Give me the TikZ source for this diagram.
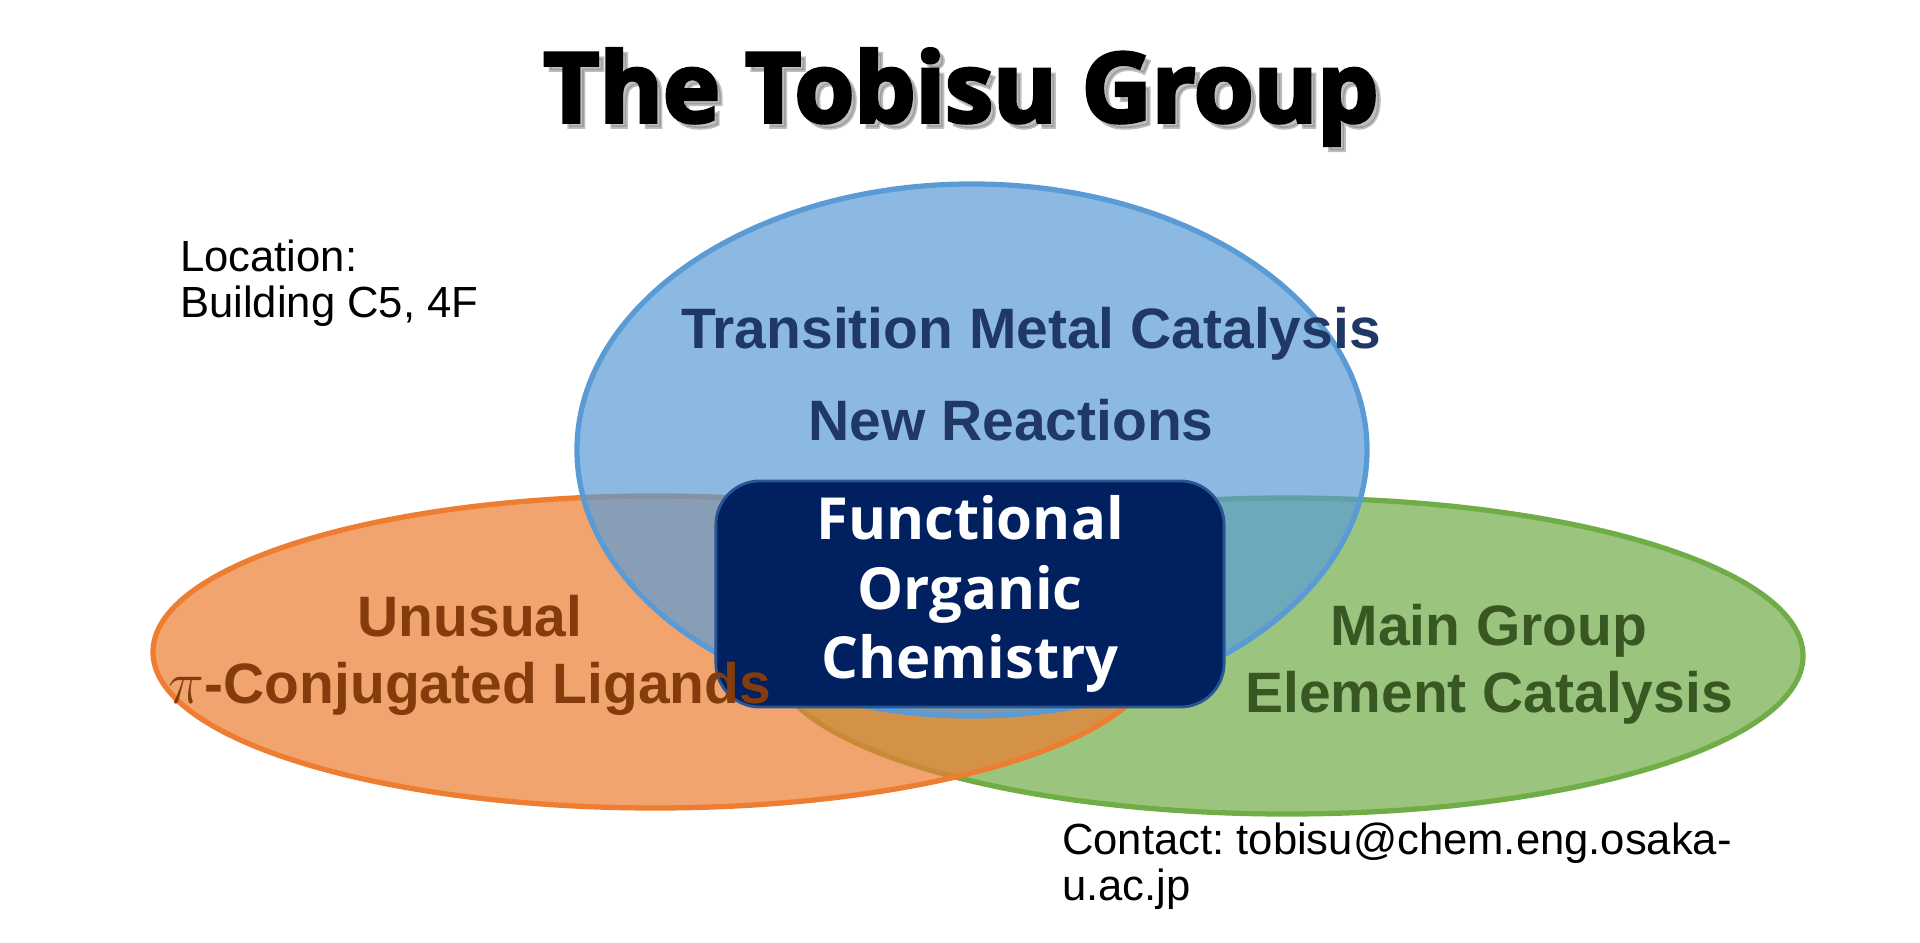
\documentclass[tikz,border=0pt]{standalone}
\usepackage{fontspec}
\setmainfont{Liberation Sans}
\newfontfamily\titlefont{Open Sans}[BoldFeatures={FakeBold=3.5}]
\newfontfamily\boxfont{Open Sans}
\frenchspacing

\definecolor{tmblue}{HTML}{5B9BD5}
\definecolor{mggreen}{HTML}{70AD47}
\definecolor{uporange}{HTML}{ED7D31}
\definecolor{focnavy}{HTML}{002060}
\definecolor{tmtext}{HTML}{1F3864}
\definecolor{mgtext}{HTML}{385723}
\definecolor{uptext}{HTML}{843C0C}

\begin{document}
\begin{tikzpicture}[x=0.01cm, y=-0.01cm]
	\tikzstyle{every node}=[align=center, inner sep=1pt]
	\tikzstyle{venn}=[line width=1.5pt, fill opacity=0.7]
	\tikzstyle{lbl}=[font=\bfseries\fontsize{16.2}{19}\selectfont]
	\tikzstyle{info}=[font=\fontsize{12.4}{13.2}\selectfont, align=left, anchor=west]
	\tikzstyle{ttl}=[font=\titlefont\bfseries\fontsize{27.5}{32}\selectfont]
	\useasboundingbox (0,0) rectangle (1920,943);

	% title
	\node[ttl, text=black!50, opacity=0.5] (shadow) at (966,102) {The Tobisu Group};
	\node[ttl] (title) at (961,97) {The Tobisu Group};

	% three areas
	\draw[venn, draw=mggreen, fill=mggreen] (1287,656) ellipse [x radius=516, y radius=158];
	\draw[venn, draw=uporange, fill=uporange] (655,652) ellipse [x radius=502, y radius=156];
	\draw[venn, draw=tmblue, fill=tmblue] (972,450) ellipse [x radius=395, y radius=266];

	\node[fill=focnavy, draw=tmblue!45!focnavy, line width=0.8pt, rounded corners=12.5pt,
		minimum width=5.08cm, minimum height=2.26cm, text=white,
		font=\boxfont\bfseries\fontsize{16.5}{19.8}\selectfont] (FOC) at (970,594) {Functional\\Organic\\Chemistry};

	\node[lbl, text=tmtext] (TMC) at (1031,334) {Transition Metal Catalysis};
	\node[lbl, text=tmtext] (NR) at (1011,420) {New Reactions};
	\node[lbl, text=uptext] (UPC) at (470,655) {Unusual\\$\pi$-Conjugated Ligands};
	\node[lbl, text=mgtext] (MGE) at (1489,664) {Main Group\\Element Catalysis};

	\node[info] (loc) at (176,283) {Location:\\Building C5, 4F};
	\node[info] (contact) at (1058,866) {Contact: tobisu@chem.eng.osaka-\\u.ac.jp};
\end{tikzpicture}
\end{document}
